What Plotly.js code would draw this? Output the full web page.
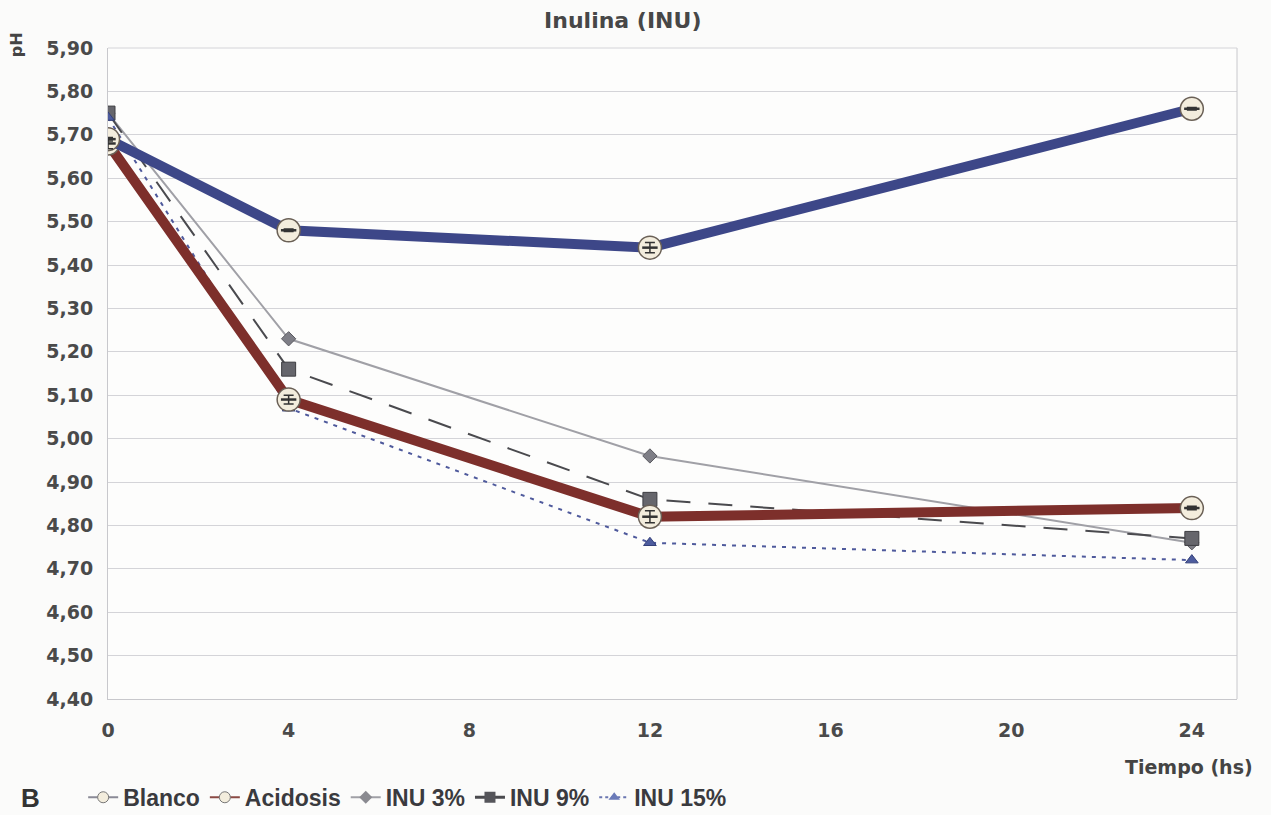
<!DOCTYPE html>
<html>
<head>
<meta charset="utf-8">
<script src="https://cdn.plot.ly/plotly-3.0.1.min.js"></script>
<style>html,body{margin:0;padding:0;background:#fbfbfa;}#chart{width:1271px;height:815px;}</style>
</head>
<body>
<div id="chart"></div>
<script>
const tiempo = [0, 4, 12, 24];
const blanco = [5.69, 5.48, 5.44, 5.76];
const acidosis = [5.68, 5.09, 4.82, 4.84];
const inu3 = [5.75, 5.23, 4.96, 4.76];
const inu9 = [5.75, 5.16, 4.86, 4.77];
const inu15 = [5.74, 5.07, 4.76, 4.72];
const blancoErr = [0.004, 0.003, 0.012, 0.003];
const acidosisErr = [0.012, 0.01, 0.014, 0.004];
const yTicks = [4.40, 4.50, 4.60, 4.70, 4.80, 4.90, 5.00, 5.10, 5.20, 5.30, 5.40, 5.50, 5.60, 5.70, 5.80, 5.90];
const xTicks = [0, 4, 8, 12, 16, 20, 24];
const seriesNames = ['Blanco', 'Acidosis', 'INU 3%', 'INU 9%', 'INU 15%'];

const FT = "DejaVu Sans, Verdana, sans-serif";
const FL = "Liberation Sans, Arial, sans-serif";

const cream = '#f3eddd';
const circleMarker = {symbol: 'circle', size: 23, color: cream, line: {color: '#6a6056', width: 1.5}};

const traces = [
  {x: tiempo, y: inu3, name: seriesNames[2], mode: 'lines+markers', showlegend: false, legendgroup: 'i3',
   line: {color: '#a0a0a6', width: 2},
   marker: {symbol: 'diamond', size: 11, color: '#7e7e86', line: {color: '#5a5a60', width: 1}}},
  {x: tiempo, y: inu9, name: seriesNames[3], mode: 'lines+markers', showlegend: false, legendgroup: 'i9',
   line: {color: '#4a4a4e', width: 2, dash: '24px,18px'},
   marker: {symbol: 'square', size: 14, color: '#66666c', line: {color: '#3e3e42', width: 1}}},
  {x: tiempo, y: inu15, name: seriesNames[4], mode: 'lines+markers', showlegend: false, legendgroup: 'i15',
   line: {color: '#4f5a9c', width: 2, dash: '4px,6px'},
   marker: {symbol: 'triangle-up', size: 11, color: '#4d5c9e', line: {color: '#34407a', width: 1}}},
  {x: tiempo, y: acidosis, name: seriesNames[1], mode: 'lines+markers', showlegend: false, legendgroup: 'ac',
   line: {color: '#7d2f2b', width: 10}, marker: circleMarker},
  {x: tiempo, y: blanco, name: seriesNames[0], mode: 'lines+markers', showlegend: false, legendgroup: 'bl',
   line: {color: '#3d4788', width: 10}, marker: circleMarker},
  {x: tiempo, y: acidosis, name: 'Acidosis err', mode: 'markers', showlegend: false, hoverinfo: 'skip',
   marker: {symbol: 'line-ew', size: 11, color: '#333', line: {color: '#333', width: 2.5}},
   error_y: {type: 'data', array: acidosisErr, visible: true, color: '#333', thickness: 1.5, width: 5}},
  {x: tiempo, y: blanco, name: 'Blanco err', mode: 'markers', showlegend: false, hoverinfo: 'skip',
   marker: {symbol: 'line-ew', size: 11, color: '#333', line: {color: '#333', width: 2.5}},
   error_y: {type: 'data', array: blancoErr, visible: true, color: '#333', thickness: 1.5, width: 5}},
  // legend-only entries (no data points)
  {x: [null], y: [null], name: seriesNames[0], mode: 'lines+markers', legendgroup: 'bl', legendrank: 1,
   line: {color: '#8a8a96', width: 2}, marker: {symbol: 'circle', size: 11, color: cream, line: {color: '#777', width: 1}}},
  {x: [null], y: [null], name: seriesNames[1], mode: 'lines+markers', legendgroup: 'ac', legendrank: 2,
   line: {color: '#8a4a44', width: 2}, marker: {symbol: 'circle', size: 11, color: cream, line: {color: '#777', width: 1}}},
  {x: [null], y: [null], name: seriesNames[2], mode: 'lines+markers', legendgroup: 'i3', legendrank: 3,
   line: {color: '#a0a0a6', width: 2}, marker: {symbol: 'diamond', size: 10, color: '#8a8a90'}},
  {x: [null], y: [null], name: seriesNames[3], mode: 'lines+markers', legendgroup: 'i9', legendrank: 4,
   line: {color: '#4a4a4e', width: 3}, marker: {symbol: 'square', size: 11, color: '#55555a'}},
  {x: [null], y: [null], name: seriesNames[4], mode: 'lines+markers', legendgroup: 'i15', legendrank: 5,
   line: {color: '#6a76b0', width: 2, dash: 'dot'}, marker: {symbol: 'triangle-up', size: 10, color: '#6a7ab8'}}
];

const layout = {
  width: 1271, height: 815,
  paper_bgcolor: '#fbfbfa', plot_bgcolor: '#fdfdfc',
  separators: ', ',
  margin: {l: 108, r: 34, t: 48, b: 116, autoexpand: false},
  title: {text: 'Inulina (INU)', x: 0.49, xanchor: 'center', y: 0.975, yanchor: 'middle',
          font: {family: FT, size: 22, color: '#474747', weight: 'bold'}},
  xaxis: {range: [0, 25], tickvals: xTicks, ticktext: xTicks.map(String),
          showgrid: false, zeroline: false, showline: true, linecolor: '#c8c8cc', linewidth: 1,
          ticks: 'outside', ticklen: 14, tickcolor: 'rgba(0,0,0,0)',
          tickfont: {family: FT, size: 19, color: '#4a4a4a', weight: 'bold'}},
  yaxis: {range: [4.40, 5.90], tickvals: yTicks, tickformat: '.2f',
          showgrid: true, gridcolor: '#d4d4d8', gridwidth: 1, zeroline: false,
          showline: true, linecolor: '#c8c8cc', linewidth: 1,
          ticks: 'outside', ticklen: 10, tickcolor: 'rgba(0,0,0,0)',
          tickfont: {family: FT, size: 19, color: '#4a4a4a', weight: 'bold'}},
  showlegend: true,
  legend: {orientation: 'h', x: -0.022, xanchor: 'left', y: -0.151, yanchor: 'middle',
           bgcolor: 'rgba(0,0,0,0)', traceorder: 'normal', itemwidth: 30, tracegroupgap: 0,
           font: {family: FL, size: 23, color: '#3a3a3e', weight: 'bold'}},
  shapes: [
    {type: 'line', xref: 'paper', yref: 'paper', x0: 1, x1: 1, y0: 0, y1: 1, line: {color: '#c8c8cc', width: 1}},
    {type: 'line', xref: 'paper', yref: 'paper', x0: 0, x1: 1, y0: 1, y1: 1, line: {color: '#d4d4d8', width: 1}}
  ],
  annotations: [
    {text: 'Tiempo (hs)', xref: 'paper', yref: 'paper', x: 1.016, xanchor: 'right', y: -0.105, yanchor: 'middle',
     showarrow: false, font: {family: FT, size: 19, color: '#444', weight: 'bold'}},
    {text: 'pH', xref: 'paper', yref: 'paper', x: -0.081, xanchor: 'center', y: 1.005, yanchor: 'middle',
     textangle: -90, showarrow: false, font: {family: FT, size: 16, color: '#444', weight: 'bold'}},
    {text: 'B', xref: 'paper', yref: 'paper', x: -0.069, xanchor: 'center', y: -0.152, yanchor: 'middle',
     showarrow: false, font: {family: FL, size: 26, color: '#333', weight: 'bold'}}
  ]
};

Plotly.newPlot('chart', traces, layout, {displayModeBar: false, staticPlot: true});
</script>
</body>
</html>
